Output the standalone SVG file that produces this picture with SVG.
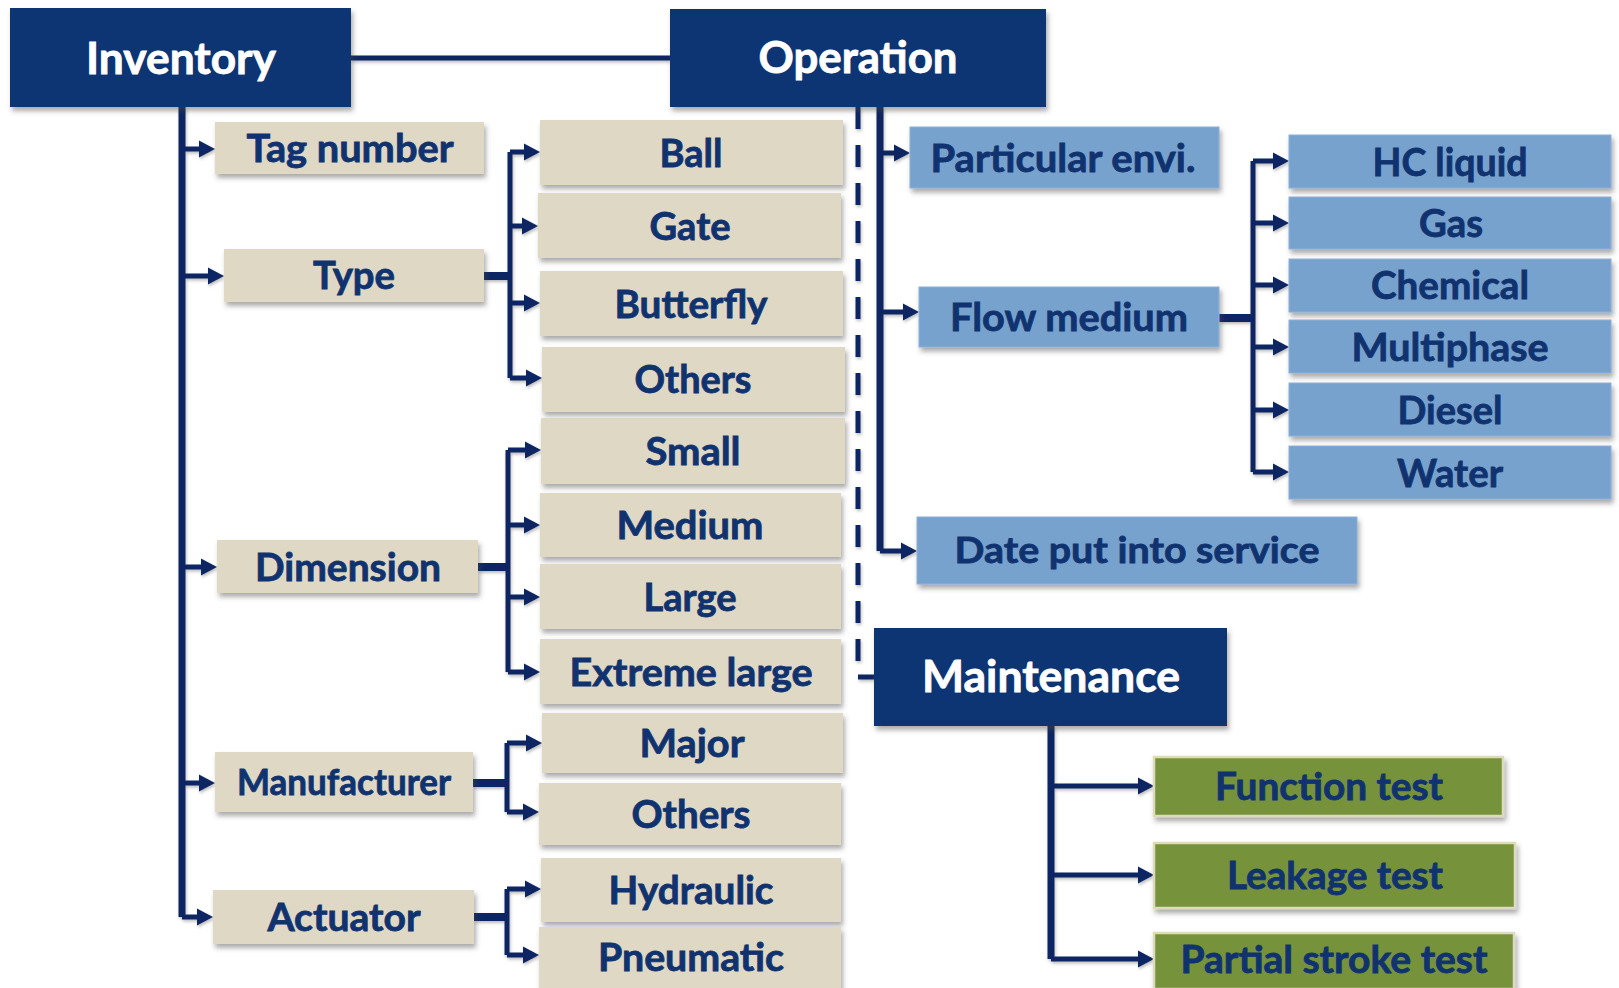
<svg xmlns="http://www.w3.org/2000/svg" width="1619" height="988" viewBox="0 0 1619 988">
  <defs>
    <filter id="shadow" x="-10%" y="-20%" width="130%" height="160%">
      <feDropShadow dx="2" dy="4" stdDeviation="2.5" flood-color="#444" flood-opacity="0.45"/>
    </filter>
    <filter id="lineShadow" x="-10%" y="-10%" width="120%" height="120%">
      <feDropShadow dx="1" dy="2" stdDeviation="1.5" flood-color="#444" flood-opacity="0.35"/>
    </filter>
    <marker id="ah" markerUnits="userSpaceOnUse" markerWidth="18" markerHeight="20" viewBox="0 -10 18 20" refX="1" refY="0" orient="auto">
      <path d="M0,-8.5 L16,0 L0,8.5 z" fill="#0B2864"/>
    </marker>
  </defs>
  <style>
    .hdr rect { fill: #0F3473; filter: url(#shadow); }
    .hdr text { fill: #FFFFFF; stroke: #FFFFFF; stroke-width: 0.8; font-family: Lato, "Open Sans", sans-serif; font-weight: 700; font-size: 44px; text-anchor: middle; }
    .inv rect { fill: #DED8C5; filter: url(#shadow); }
    .op rect { fill: #78A2CE; stroke: #8DB0D8; stroke-width: 1; filter: url(#shadow); }
    .mt rect { fill: #76923B; stroke: #DDD9C3; stroke-width: 2.5; filter: url(#shadow); }
    .inv text, .op text, .mt text { fill: #10336F; stroke: #10336F; stroke-width: 0.8; font-family: Lato, "Open Sans", sans-serif; font-weight: 700; font-size: 39px; text-anchor: middle; }
    #connectors { fill: none; stroke: #0B2864; filter: url(#lineShadow); }
    .trunk { stroke-width: 7; }
    .stub { stroke-width: 8; }
    .branch { stroke-width: 5; }
    .arrow { stroke-width: 5; marker-end: url(#ah); }
    .dash { stroke-width: 5; stroke-dasharray: 22 16; }
  </style>

  <rect width="1619" height="988" fill="#FFFFFF"/>

  <!-- connectors -->
  <g id="connectors">
    <!-- Inventory to Operation -->
    <path class="branch" d="M351,58 H670"/>
    <!-- Inventory trunk and branches -->
    <path class="trunk" d="M182,107 V917"/>
    <path class="arrow" d="M182,149 H200"/>
    <path class="arrow" d="M182,276 H209"/>
    <path class="arrow" d="M182,567 H202"/>
    <path class="arrow" d="M182,783 H200"/>
    <path class="arrow" d="M182,917 H198"/>
    <!-- Type children -->
    <path class="stub" d="M484,276 H510"/>
    <path class="branch" d="M510,152 V378"/>
    <path class="arrow" d="M510,152 H525"/>
    <path class="arrow" d="M510,226 H523"/>
    <path class="arrow" d="M510,303 H525"/>
    <path class="arrow" d="M510,378 H527"/>
    <!-- Dimension children -->
    <path class="stub" d="M478,567 H508"/>
    <path class="branch" d="M508,450 V672"/>
    <path class="arrow" d="M508,450 H526"/>
    <path class="arrow" d="M508,525 H525"/>
    <path class="arrow" d="M508,597 H525"/>
    <path class="arrow" d="M508,672 H525"/>
    <!-- Manufacturer children -->
    <path class="stub" d="M473,783 H507"/>
    <path class="branch" d="M507,743 V812"/>
    <path class="arrow" d="M507,743 H527"/>
    <path class="arrow" d="M507,812 H524"/>
    <!-- Actuator children -->
    <path class="stub" d="M474,917 H507"/>
    <path class="branch" d="M507,889 V955"/>
    <path class="arrow" d="M507,889 H526"/>
    <path class="arrow" d="M507,955 H524"/>
    <!-- Operation to Maintenance (dashed) -->
    <path class="dash" d="M858,107 V677 H874"/>
    <!-- Operation trunk and branches -->
    <path class="trunk" d="M880,107 V551"/>
    <path class="arrow" d="M880,153 H895"/>
    <path class="arrow" d="M880,312 H904"/>
    <path class="arrow" d="M880,551 H902"/>
    <!-- Flow medium children -->
    <path class="stub" d="M1219,318 H1253"/>
    <path class="branch" d="M1253,161 V472"/>
    <path class="arrow" d="M1253,161 H1274"/>
    <path class="arrow" d="M1253,223 H1274"/>
    <path class="arrow" d="M1253,285 H1274"/>
    <path class="arrow" d="M1253,347 H1274"/>
    <path class="arrow" d="M1253,410 H1274"/>
    <path class="arrow" d="M1253,472 H1274"/>
    <!-- Maintenance trunk and branches -->
    <path class="trunk" d="M1051,726 V959"/>
    <path class="arrow" d="M1051,786 H1139"/>
    <path class="arrow" d="M1051,875 H1139"/>
    <path class="arrow" d="M1051,959 H1139"/>
  </g>

  <!-- top-level categories -->
  <g id="inventory" class="hdr">
    <rect x="10" y="8" width="341" height="99"/>
    <text x="181" y="74" textLength="190" lengthAdjust="spacingAndGlyphs">Inventory</text>
  </g>
  <g id="operation" class="hdr">
    <rect x="670" y="9" width="376" height="98"/>
    <text x="858" y="73" textLength="199" lengthAdjust="spacingAndGlyphs">Operation</text>
  </g>
  <g id="maintenance" class="hdr">
    <rect x="874" y="628" width="353" height="98"/>
    <text x="1051" y="692" textLength="258" lengthAdjust="spacingAndGlyphs">Maintenance</text>
  </g>

  <!-- inventory attributes -->
  <g id="tag-number" class="inv">
    <rect x="215" y="122" width="269" height="52"/>
    <text x="350" y="162" textLength="207" lengthAdjust="spacingAndGlyphs">Tag number</text>
  </g>
  <g id="type" class="inv">
    <rect x="224" y="249" width="260" height="53"/>
    <text x="354" y="289" textLength="82" lengthAdjust="spacingAndGlyphs">Type</text>
  </g>
  <g id="dimension" class="inv">
    <rect x="217" y="540" width="261" height="53"/>
    <text x="348" y="581" textLength="186" lengthAdjust="spacingAndGlyphs">Dimension</text>
  </g>
  <g id="manufacturer" class="inv">
    <rect x="215" y="752" width="258" height="60"/>
    <text x="344" y="795" textLength="214" lengthAdjust="spacingAndGlyphs" style="font-size:37px">Manufacturer</text>
  </g>
  <g id="actuator" class="inv">
    <rect x="213" y="890" width="261" height="54"/>
    <text x="344" y="931" textLength="153" lengthAdjust="spacingAndGlyphs">Actuator</text>
  </g>

  <!-- valve types -->
  <g id="type-ball" class="inv">
    <rect x="540" y="120" width="303" height="65"/>
    <text x="691" y="167" textLength="63" lengthAdjust="spacingAndGlyphs">Ball</text>
  </g>
  <g id="type-gate" class="inv">
    <rect x="538" y="193" width="303" height="65"/>
    <text x="690" y="240" textLength="81" lengthAdjust="spacingAndGlyphs">Gate</text>
  </g>
  <g id="type-butterfly" class="inv">
    <rect x="540" y="271" width="303" height="65"/>
    <text x="691" y="318" textLength="153" lengthAdjust="spacingAndGlyphs">Butterfly</text>
  </g>
  <g id="type-others" class="inv">
    <rect x="542" y="347" width="303" height="65"/>
    <text x="693" y="393" textLength="117" lengthAdjust="spacingAndGlyphs">Others</text>
  </g>

  <!-- dimensions -->
  <g id="dim-small" class="inv">
    <rect x="541" y="418" width="304" height="66"/>
    <text x="693" y="465" textLength="95" lengthAdjust="spacingAndGlyphs">Small</text>
  </g>
  <g id="dim-medium" class="inv">
    <rect x="540" y="493" width="301" height="64"/>
    <text x="690" y="539" textLength="147" lengthAdjust="spacingAndGlyphs">Medium</text>
  </g>
  <g id="dim-large" class="inv">
    <rect x="540" y="564" width="301" height="65"/>
    <text x="690" y="611" textLength="93" lengthAdjust="spacingAndGlyphs">Large</text>
  </g>
  <g id="dim-extreme-large" class="inv">
    <rect x="540" y="639" width="301" height="65"/>
    <text x="691" y="686" textLength="243" lengthAdjust="spacingAndGlyphs">Extreme large</text>
  </g>

  <!-- manufacturers -->
  <g id="mfr-major" class="inv">
    <rect x="542" y="713" width="301" height="60"/>
    <text x="692" y="757" textLength="105" lengthAdjust="spacingAndGlyphs">Major</text>
  </g>
  <g id="mfr-others" class="inv">
    <rect x="539" y="783" width="302" height="62"/>
    <text x="691" y="828" textLength="119" lengthAdjust="spacingAndGlyphs">Others</text>
  </g>

  <!-- actuators -->
  <g id="act-hydraulic" class="inv">
    <rect x="541" y="858" width="300" height="64"/>
    <text x="691" y="904" textLength="165" lengthAdjust="spacingAndGlyphs">Hydraulic</text>
  </g>
  <g id="act-pneumatic" class="inv">
    <rect x="539" y="927" width="302" height="64"/>
    <text x="691" y="971" textLength="186" lengthAdjust="spacingAndGlyphs">Pneumatic</text>
  </g>

  <!-- operation attributes -->
  <g id="particular-envi" class="op">
    <rect x="910" y="127" width="309" height="61"/>
    <text x="1063" y="172" textLength="265" lengthAdjust="spacingAndGlyphs">Particular envi.</text>
  </g>
  <g id="flow-medium" class="op">
    <rect x="919" y="287" width="300" height="60"/>
    <text x="1069" y="331" textLength="238" lengthAdjust="spacingAndGlyphs">Flow medium</text>
  </g>
  <g id="date-in-service" class="op">
    <rect x="917" y="517" width="440" height="67"/>
    <text x="1137" y="563" textLength="365" lengthAdjust="spacingAndGlyphs" style="font-size:37px">Date put into service</text>
  </g>

  <!-- flow media -->
  <g id="fm-hc-liquid" class="op">
    <rect x="1289" y="135" width="322" height="53"/>
    <text x="1450" y="176" textLength="155" lengthAdjust="spacingAndGlyphs">HC liquid</text>
  </g>
  <g id="fm-gas" class="op">
    <rect x="1289" y="197" width="322" height="52"/>
    <text x="1451" y="237" textLength="64" lengthAdjust="spacingAndGlyphs">Gas</text>
  </g>
  <g id="fm-chemical" class="op">
    <rect x="1289" y="259" width="322" height="53"/>
    <text x="1450" y="299" textLength="158" lengthAdjust="spacingAndGlyphs">Chemical</text>
  </g>
  <g id="fm-multiphase" class="op">
    <rect x="1289" y="320" width="322" height="53"/>
    <text x="1450" y="361" textLength="197" lengthAdjust="spacingAndGlyphs">Multiphase</text>
  </g>
  <g id="fm-diesel" class="op">
    <rect x="1289" y="383" width="322" height="53"/>
    <text x="1450" y="424" textLength="105" lengthAdjust="spacingAndGlyphs">Diesel</text>
  </g>
  <g id="fm-water" class="op">
    <rect x="1289" y="446" width="322" height="53"/>
    <text x="1450" y="487" textLength="106" lengthAdjust="spacingAndGlyphs">Water</text>
  </g>

  <!-- maintenance tests -->
  <g id="function-test" class="mt">
    <rect x="1154" y="757" width="349" height="59"/>
    <text x="1329" y="800" textLength="228" lengthAdjust="spacingAndGlyphs" style="font-size:38px">Function test</text>
  </g>
  <g id="leakage-test" class="mt">
    <rect x="1154" y="843" width="361" height="65"/>
    <text x="1335" y="889" textLength="216" lengthAdjust="spacingAndGlyphs" style="font-size:38px">Leakage test</text>
  </g>
  <g id="partial-stroke-test" class="mt">
    <rect x="1154" y="933" width="360" height="56"/>
    <text x="1334" y="973" textLength="307" lengthAdjust="spacingAndGlyphs" style="font-size:38px">Partial stroke test</text>
  </g>
</svg>
